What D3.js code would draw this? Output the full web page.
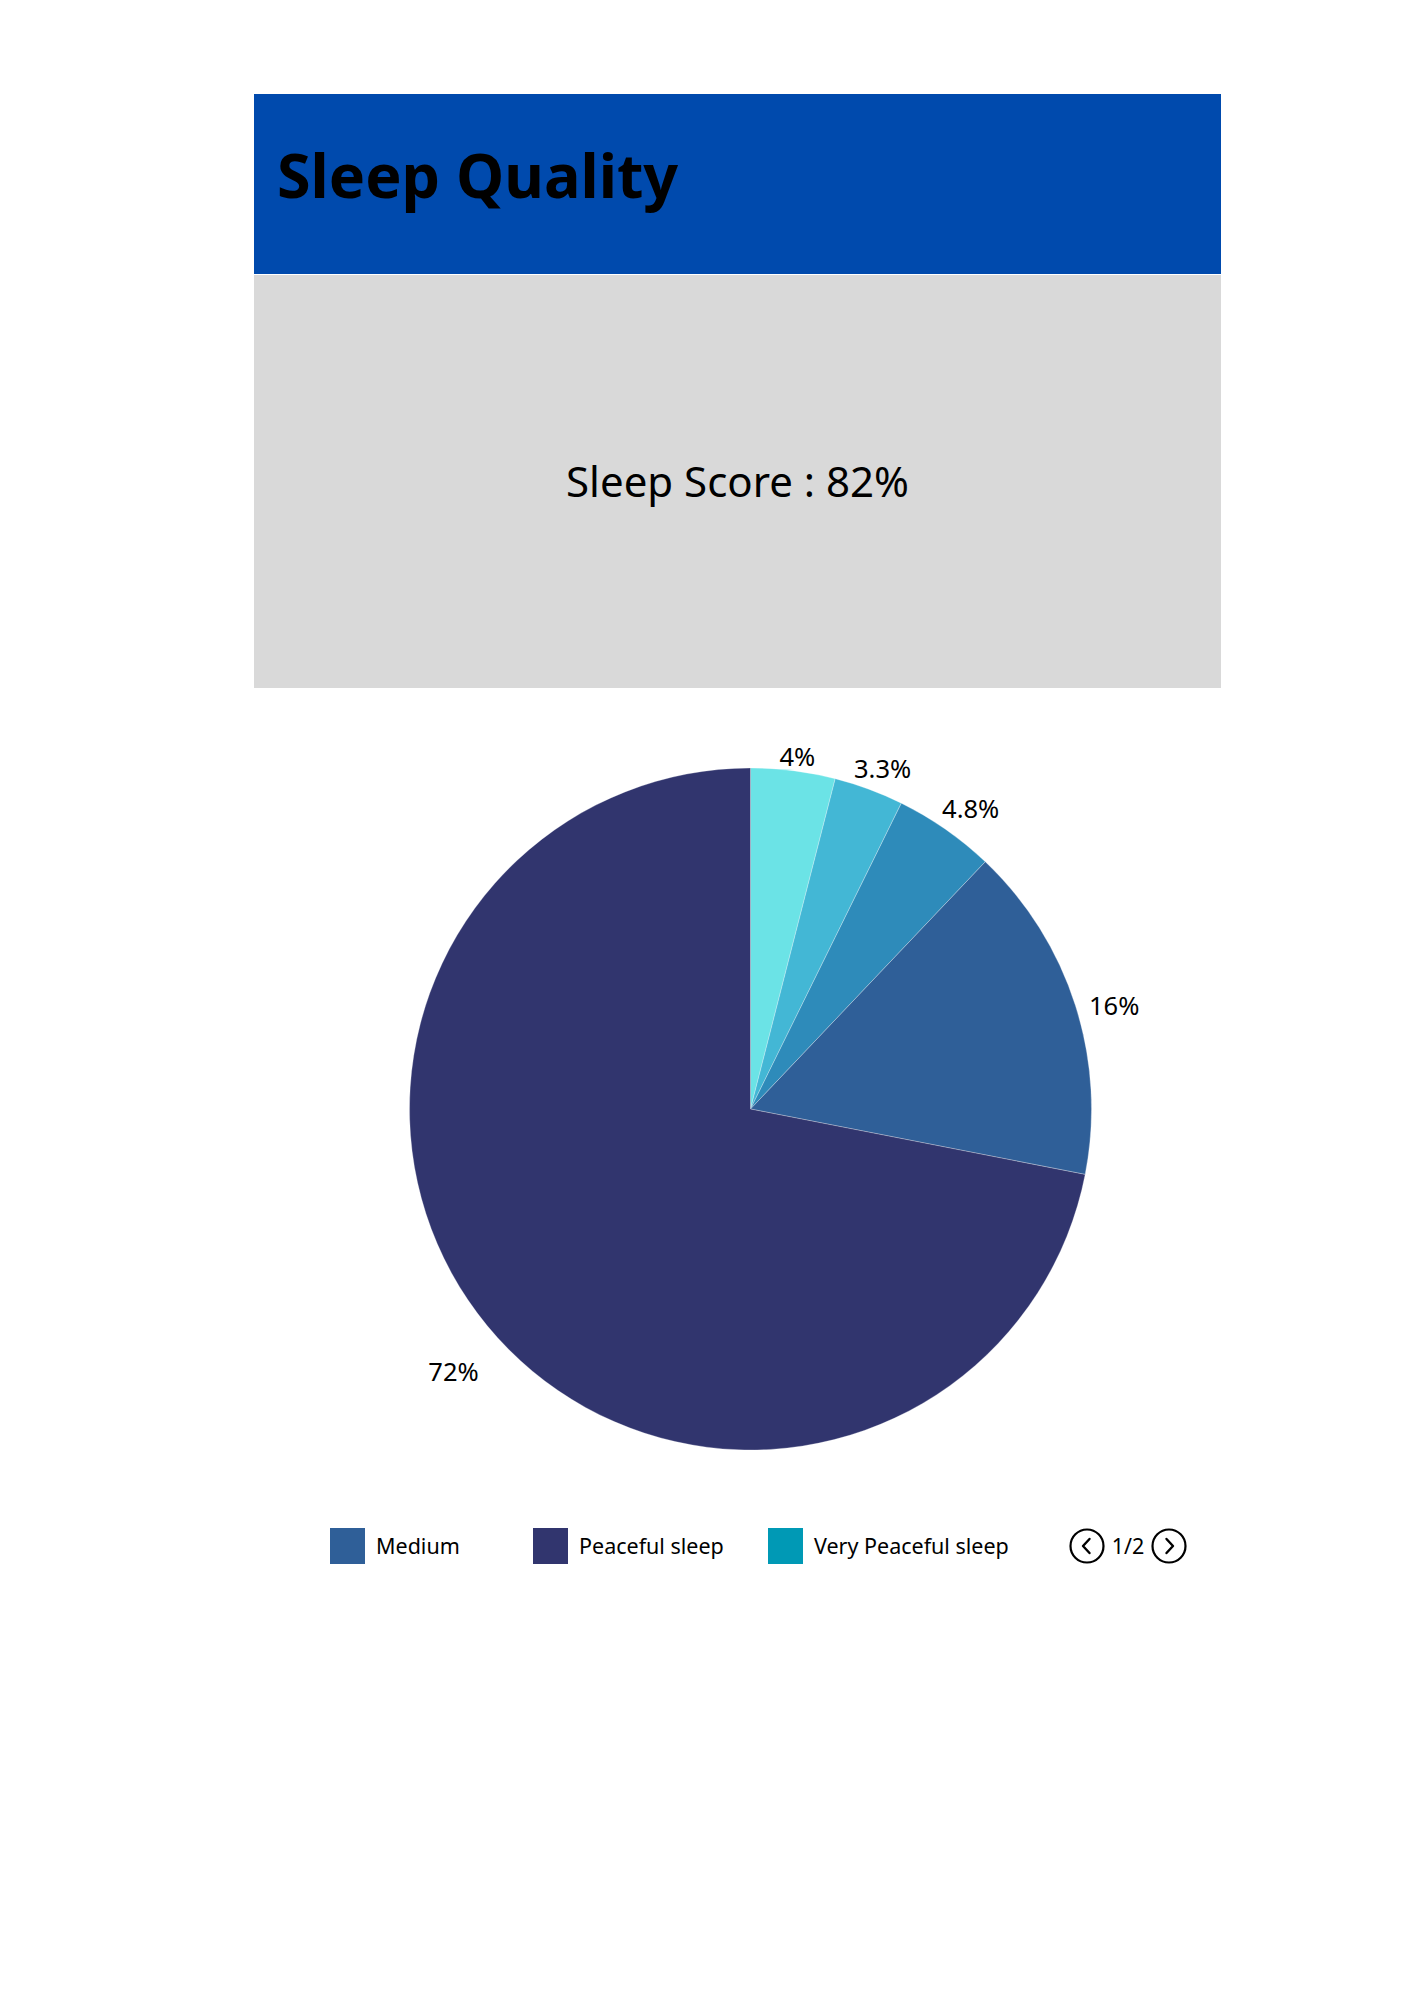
<!DOCTYPE html>
<html>
<head>
<meta charset="utf-8">
<script src="https://cdn.jsdelivr.net/npm/d3@7"></script>
<style>
  html, body { margin: 0; padding: 0; background: #ffffff; }
  svg { display: block; }
</style>
</head>
<body>
<svg id="chart" width="1414" height="2000"></svg>
<script>
// ---- data ----
const titleText = "Sleep Quality";
const scoreText = "Sleep Score : 82%";
const sliceValues = [4, 3.3, 4.8, 16, 72];
const sliceLabels = ["4%", "3.3%", "4.8%", "16%", "72%"];
const sliceColors = ["#6be3e6", "#43b7d5", "#2e8bba", "#2f5f98", "#31356e"];
const legendLabels = ["Medium", "Peaceful sleep", "Very Peaceful sleep"];
const legendColors = ["#2f5f98", "#31356e", "#0099b5"];
const pageText = "1/2";

const svg = d3.select("#chart");
const font = "'Noto Sans', 'Open Sans', sans-serif";

// ---- header ----
const box = { x: 254, w: 967, top: 94, split: 274, bottom: 688 };
svg.append("rect").attr("x", box.x).attr("y", box.top)
  .attr("width", box.w).attr("height", box.split - box.top).attr("fill", "#004aad");
svg.append("rect").attr("x", box.x).attr("y", box.split + 1)
  .attr("width", box.w).attr("height", box.bottom - box.split - 1).attr("fill", "#d9d9d9");

svg.append("text").attr("x", 277).attr("y", 198)
  .attr("font-family", font).attr("font-weight", 700).attr("font-size", 61)
  .attr("fill", "#000").text(titleText);

svg.append("text").attr("x", box.x + box.w / 2).attr("y", 497)
  .attr("text-anchor", "middle")
  .attr("font-family", font).attr("font-size", 42)
  .attr("fill", "#000").text(scoreText);

// ---- pie ----
const cx = 750.5, cy = 1109, r = 341;
const g = svg.append("g").attr("transform", `translate(${cx},${cy})`);
const pie = d3.pie().sort(null).value(d => d)(sliceValues);
const arc = d3.arc().innerRadius(0).outerRadius(r);

g.selectAll("path.slice").data(pie).join("path")
  .attr("class", "slice")
  .attr("d", arc)
  .attr("fill", (d, i) => sliceColors[i])
  .attr("stroke", "rgba(255,255,255,0.35)")
  .attr("stroke-width", 0.8);

// label placement (layout constants): radial offset past the rim, small angular nudge in degrees
const labelSize = 25.5;
const labelOffsets = [14, 24, 31, 37, 56];
const labelNudgeDeg = [0.4, 0.9, 1.4, 1.9, -2.1];
pie.forEach((d, i) => {
  const rl = r + labelOffsets[i];
  const a = (d.startAngle + d.endAngle) / 2 + labelNudgeDeg[i] * Math.PI / 180;
  g.append("text")
    .attr("x", Math.sin(a) * rl)
    .attr("y", -Math.cos(a) * rl + 9)
    .attr("font-family", font).attr("font-size", labelSize)
    .attr("fill", "#000").attr("text-anchor", "middle")
    .text(sliceLabels[i]);
});

// ---- legend ----
const legendX = [330, 533, 768];
const legendY = 1528, sq = 35;
legendLabels.forEach((lab, i) => {
  svg.append("rect").attr("x", legendX[i]).attr("y", legendY)
    .attr("width", sq).attr("height", sq + 1).attr("fill", legendColors[i]);
  svg.append("text").attr("x", legendX[i] + 46).attr("y", legendY + 26)
    .attr("font-family", font).attr("font-size", 21.5).attr("fill", "#000")
    .text(lab);
});

// pagination
const pg = svg.append("g");
const cyP = 1546, rP = 16.5;
[[1087, -1], [1169, 1]].forEach(([x, dir]) => {
  pg.append("circle").attr("cx", x).attr("cy", cyP).attr("r", rP)
    .attr("fill", "none").attr("stroke", "#000").attr("stroke-width", 2.2);
  pg.append("path")
    .attr("d", `M${x - dir * 2.5},${cyP - 7} L${x + dir * 4},${cyP} L${x - dir * 2.5},${cyP + 7}`)
    .attr("fill", "none").attr("stroke", "#000").attr("stroke-width", 2.4)
    .attr("stroke-linecap", "round").attr("stroke-linejoin", "round");
});
pg.append("text").attr("x", 1128).attr("y", 1554)
  .attr("text-anchor", "middle")
  .attr("font-family", font).attr("font-size", 21.5).attr("fill", "#000")
  .text(pageText);
</script>
</body>
</html>
